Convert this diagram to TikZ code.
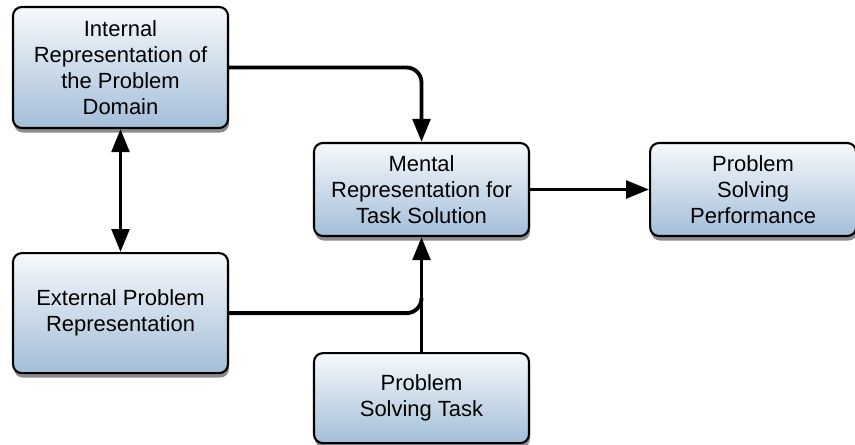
\documentclass[tikz,border=0pt]{standalone}
\usepackage{fontspec}
\setmainfont{Liberation Sans}
\usepackage{tikz}
\usetikzlibrary{arrows.meta,positioning,calc,shadows}
\definecolor{boxtop}{RGB}{246,249,252}
\definecolor{boxbot}{RGB}{163,190,216}

\begin{document}
\begin{tikzpicture}[
  box/.style={rectangle, draw=black, line width=1.2pt, rounded corners=5pt,
              top color=boxtop, bottom color=boxbot,
              minimum width=4.3cm, minimum height=#1,
              text centered, align=center, inner sep=2pt,
              font=\fontsize{12.5}{14.7}\selectfont,
              drop shadow={shadow xshift=0.02cm, shadow yshift=-0.09cm,
                           opacity=0.45, fill=black}},
  box/.default={1.86cm},
  arrow/.style={-{Triangle[length=0.46cm, width=0.35cm]}, line width=2.2pt},
  link/.style={line width=2.2pt, rounded corners=0.3cm},
  node distance=0.5cm
]
  \useasboundingbox (0,0) rectangle (17.1,-8.88);

  % Middle column
  \node[box] (mental) at (8.43,-3.79) {Mental\\Representation for\\Task Solution};
  \node[box, right=2.38cm of mental, minimum width=4.12cm] (perf) {Problem\\Solving\\Performance};
  \node[box=1.8cm, below=2.3cm of mental] (task) {Problem\\Solving Task};

  % Left column
  \node[box=2.42cm] (internal) at (2.41,-1.35) {Internal\\Representation of\\the Problem\\Domain};
  \node[box=2.4cm, below=2.46cm of internal] (external) {External Problem\\Representation};

  \coordinate (merge) at ($(mental.south)!0.55!(task.north)$);

  % Connectors
  \draw[arrow, rounded corners=0.3cm] (internal.east) -| (mental.north);
  \draw[arrow, {Triangle[length=0.46cm, width=0.35cm]}-{Triangle[length=0.46cm, width=0.35cm]}]
    (internal) -- (external);
  \draw[link] (external.east) -| (merge);
  \draw[arrow] (task) -- (mental);
  \draw[arrow] (mental) -- (perf);
\end{tikzpicture}
\end{document}
